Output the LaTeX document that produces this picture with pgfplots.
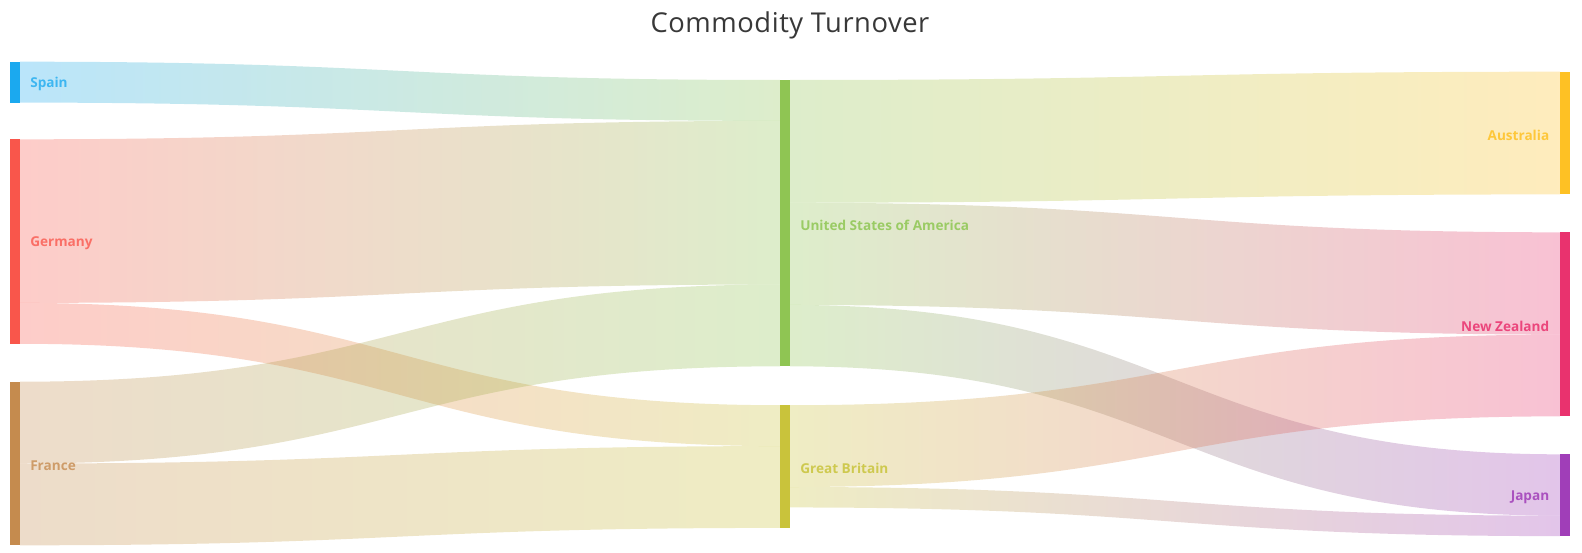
\documentclass[border=0pt]{standalone}
\usepackage{pgfplots}
\pgfplotsset{compat=1.18}
\usepackage{fontspec}
\setmainfont{Open Sans}
\newfontfamily\titlefont{Open Sans}[LetterSpace=2]
\definecolor{spain}{HTML}{1BA9EF}
\definecolor{germany}{HTML}{F9564B}
\definecolor{france}{HTML}{C58B4E}
\definecolor{usa}{HTML}{8FC553}
\definecolor{gb}{HTML}{C9C33B}
\definecolor{australia}{HTML}{FEC124}
\definecolor{nz}{HTML}{E9326E}
\definecolor{japan}{HTML}{A03EB8}
% flow: x0, y top at source, x1, y top at target, value, source colour, target colour
\newcommand{\flow}[7]{%
  \shade[left color=#6, right color=#7, opacity=0.3]
  (axis cs:#1,#2) .. controls (axis cs:{(#1+#3)/2},#2) and (axis cs:{(#1+#3)/2},#4) .. (axis cs:#3,#4)
  -- (axis cs:#3,{#4+#5*4.09})
  .. controls (axis cs:{(#1+#3)/2},{#4+#5*4.09}) and (axis cs:{(#1+#3)/2},{#2+#5*4.09}) .. (axis cs:#1,{#2+#5*4.09})
  -- cycle;}
\newcommand{\lbl}{\bfseries\fontsize{10.2}{12}\selectfont}
\begin{document}
\begin{tikzpicture}
\begin{axis}[width=1186.5pt, height=414pt, scale only axis,
  xmin=0, xmax=1582, ymin=0, ymax=552, y dir=reverse,
  hide axis, clip=false]
\path (rel axis cs:0,0) rectangle (rel axis cs:1,1);
% links
\flow{20}{61.7}{780}{80}{10}{spain}{usa}
\flow{20}{139.3}{780}{120.9}{40}{germany}{usa}
\flow{20}{302.9}{780}{405.2}{10}{germany}{gb}
\flow{20}{381.7}{780}{284.5}{20}{france}{usa}
\flow{20}{463.5}{780}{446.1}{20}{france}{gb}
\flow{790}{80}{1560}{71.7}{30}{usa}{australia}
\flow{790}{202.7}{1560}{232.3}{25}{usa}{nz}
\flow{790}{304.95}{1560}{454.3}{15}{usa}{japan}
\flow{790}{405.2}{1560}{334.55}{20}{gb}{nz}
\flow{790}{487}{1560}{515.65}{5}{gb}{japan}
% nodes
\addplot[fill=spain, draw=none] coordinates {(10,61.7) (20,61.7) (20,102.6) (10,102.6)};
\addplot[fill=germany, draw=none] coordinates {(10,139.3) (20,139.3) (20,343.8) (10,343.8)};
\addplot[fill=france, draw=none] coordinates {(10,381.7) (20,381.7) (20,545.3) (10,545.3)};
\addplot[fill=usa, draw=none] coordinates {(780,80) (790,80) (790,366.3) (780,366.3)};
\addplot[fill=gb, draw=none] coordinates {(780,405.2) (790,405.2) (790,527.9) (780,527.9)};
\addplot[fill=australia, draw=none] coordinates {(1560,71.7) (1570,71.7) (1570,194.4) (1560,194.4)};
\addplot[fill=nz, draw=none] coordinates {(1560,232.3) (1570,232.3) (1570,416.4) (1560,416.4)};
\addplot[fill=japan, draw=none] coordinates {(1560,454.3) (1570,454.3) (1570,536.1) (1560,536.1)};
% labels
\tikzset{lb/.style={inner sep=0pt, font=\lbl}}
\node[lb, anchor=west, text=spain!85!white] at (axis cs:30,84) {Spain};
\node[lb, anchor=west, text=germany!85!white] at (axis cs:30,243.5) {Germany};
\node[lb, anchor=west, text=france!85!white] at (axis cs:30,465.5) {France};
\node[lb, anchor=west, text=usa!90!white] at (axis cs:800,225) {United States of America};
\node[lb, anchor=west, text=gb!90!white] at (axis cs:800,468.5) {Great Britain};
\node[lb, anchor=east, text=australia!90!white] at (axis cs:1549.5,135) {Australia};
\node[lb, anchor=east, text=nz!90!white] at (axis cs:1549.5,326.3) {New Zealand};
\node[lb, anchor=east, text=japan!90!white] at (axis cs:1549.5,497) {Japan};
% title
\node[anchor=base, inner sep=0pt, text=black!78, font=\titlefont\fontsize{20.5}{24}\selectfont] at (axis cs:790,32.5) {Commodity Turnover};
\end{axis}
\end{tikzpicture}
\end{document}
